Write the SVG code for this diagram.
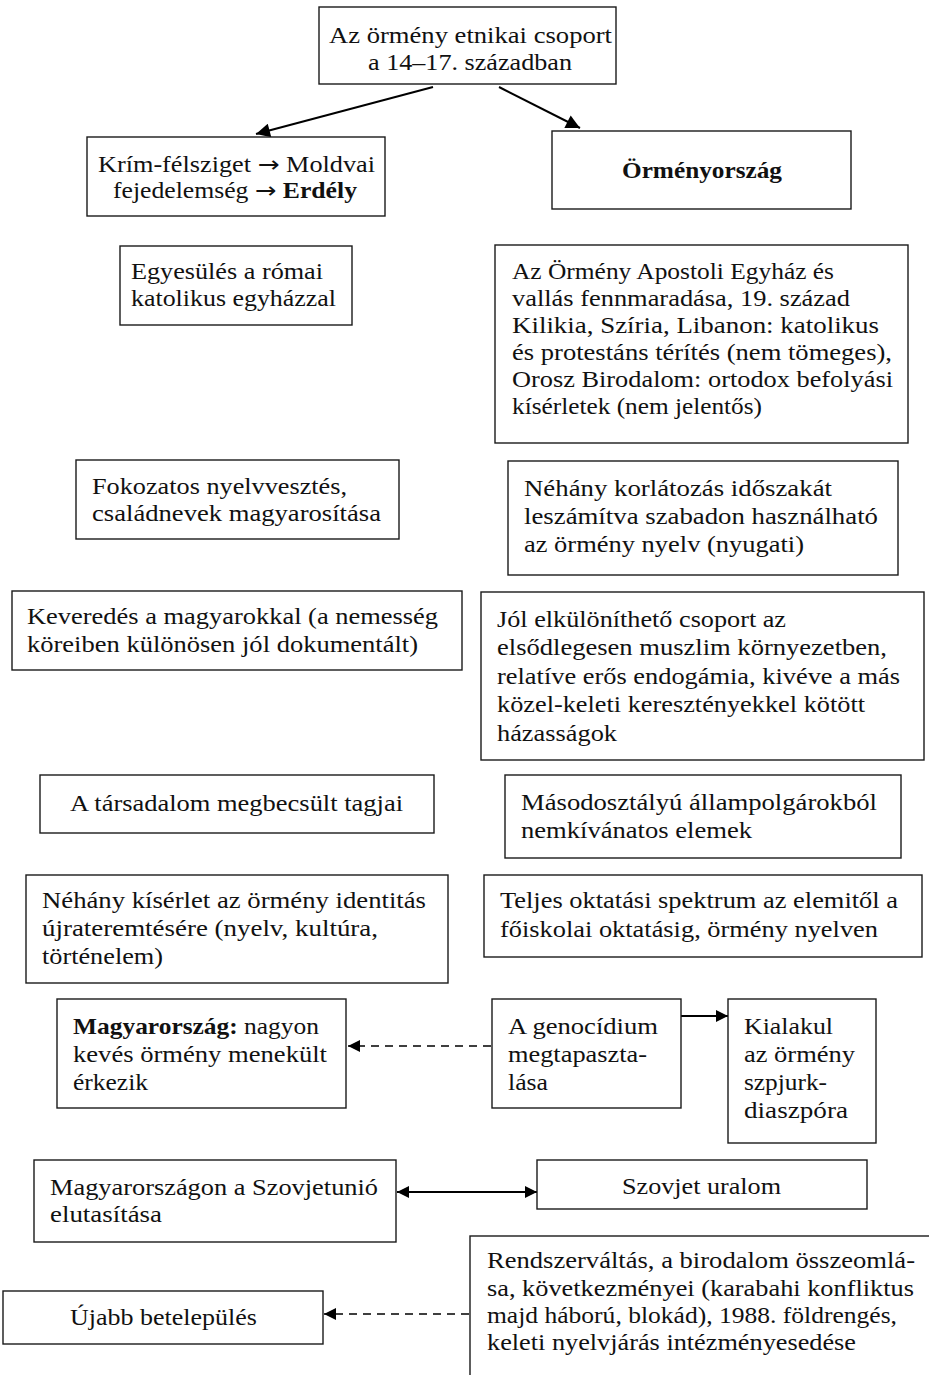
<svg xmlns="http://www.w3.org/2000/svg" width="929" height="1375" viewBox="0 0 929 1375">
<style>
  .box { fill: #fff; stroke: #1a1a1a; stroke-width: 1.4; }
  .t { font-family: "Liberation Serif", "DejaVu Serif", serif; font-size: 22.5px; fill: #111; }
  .b { font-weight: bold; }
  .ar { font-family: "DejaVu Sans", sans-serif; font-weight: normal; }
  .c { stroke: #000; stroke-width: 2; fill: none; }
  .d { stroke: #000; stroke-width: 1.6; fill: none; stroke-dasharray: 8 6; }
</style>
<defs>
  <marker id="big" viewBox="0 0 10 10" refX="10" refY="5" markerWidth="17" markerHeight="14" markerUnits="userSpaceOnUse" orient="auto">
    <path d="M0,0 L10,5 L0,10 z" fill="#000"/>
  </marker>
  <marker id="sm" viewBox="0 0 10 10" refX="10" refY="5" markerWidth="14" markerHeight="12" markerUnits="userSpaceOnUse" orient="auto-start-reverse">
    <path d="M0,0 L10,5 L0,10 z" fill="#000"/>
  </marker>
</defs>
<rect width="929" height="1375" fill="#fff"/>

<g id="connectors">
  <line class="c" x1="433" y1="87" x2="256" y2="134" marker-end="url(#big)"/>
  <line class="c" x1="499" y1="87" x2="580" y2="128" marker-end="url(#big)"/>
  <line class="d" x1="491" y1="1046" x2="348" y2="1046" marker-end="url(#sm)"/>
  <line class="c" x1="681" y1="1016" x2="728" y2="1016" marker-end="url(#sm)"/>
  <line class="c" x1="397" y1="1192" x2="537" y2="1192" marker-start="url(#sm)" marker-end="url(#sm)"/>
  <line class="d" x1="469" y1="1314" x2="324" y2="1314" marker-end="url(#sm)"/>
</g>

<g id="n-top">
  <rect class="box" x="319" y="7" width="297" height="77"/>
  <text class="t" x="329" y="43" textLength="283" lengthAdjust="spacingAndGlyphs">Az örmény etnikai csoport</text>
  <text class="t" x="368" y="70" textLength="204" lengthAdjust="spacingAndGlyphs">a 14–17. században</text>
</g>

<g id="n-krim">
  <rect class="box" x="87" y="137" width="298" height="79"/>
  <text class="t" x="98" y="172" textLength="277" lengthAdjust="spacingAndGlyphs">Krím-félsziget <tspan class="ar">→</tspan> Moldvai</text>
  <text class="t" x="113" y="198" textLength="244" lengthAdjust="spacingAndGlyphs">fejedelemség <tspan class="ar">→</tspan> <tspan class="b">Erdély</tspan></text>
</g>

<g id="n-ormenyorszag">
  <rect class="box" x="552" y="131" width="299" height="78"/>
  <text class="t b" x="622" y="178" textLength="160" lengthAdjust="spacingAndGlyphs">Örményország</text>
</g>

<g id="n-egyesules">
  <rect class="box" x="120" y="246" width="232" height="79"/>
  <text class="t" x="131" y="279" textLength="192" lengthAdjust="spacingAndGlyphs">Egyesülés a római</text>
  <text class="t" x="131" y="306" textLength="205" lengthAdjust="spacingAndGlyphs">katolikus egyházzal</text>
</g>

<g id="n-apostoli">
  <rect class="box" x="495" y="245" width="413" height="198"/>
  <text class="t" x="512" y="279" textLength="322" lengthAdjust="spacingAndGlyphs">Az Örmény Apostoli Egyház és</text>
  <text class="t" x="512" y="306" textLength="338" lengthAdjust="spacingAndGlyphs">vallás fennmaradása, 19. század</text>
  <text class="t" x="512" y="333" textLength="367" lengthAdjust="spacingAndGlyphs">Kilikia, Szíria, Libanon: katolikus</text>
  <text class="t" x="512" y="360" textLength="380" lengthAdjust="spacingAndGlyphs">és protestáns térítés (nem tömeges),</text>
  <text class="t" x="512" y="387" textLength="381" lengthAdjust="spacingAndGlyphs">Orosz Birodalom: ortodox befolyási</text>
  <text class="t" x="512" y="414" textLength="250" lengthAdjust="spacingAndGlyphs">kísérletek (nem jelentős)</text>
</g>

<g id="n-fokozatos">
  <rect class="box" x="76" y="460" width="323" height="79"/>
  <text class="t" x="92" y="494" textLength="255" lengthAdjust="spacingAndGlyphs">Fokozatos nyelvvesztés,</text>
  <text class="t" x="92" y="521" textLength="289" lengthAdjust="spacingAndGlyphs">családnevek magyarosítása</text>
</g>

<g id="n-korlatozas">
  <rect class="box" x="508" y="461" width="390" height="114"/>
  <text class="t" x="524" y="496" textLength="308" lengthAdjust="spacingAndGlyphs">Néhány korlátozás időszakát</text>
  <text class="t" x="524" y="524" textLength="354" lengthAdjust="spacingAndGlyphs">leszámítva szabadon használható</text>
  <text class="t" x="524" y="552" textLength="280" lengthAdjust="spacingAndGlyphs">az örmény nyelv (nyugati)</text>
</g>

<g id="n-keveredes">
  <rect class="box" x="12" y="591" width="450" height="79"/>
  <text class="t" x="27" y="624" textLength="411" lengthAdjust="spacingAndGlyphs">Keveredés a magyarokkal (a nemesség</text>
  <text class="t" x="27" y="652" textLength="391" lengthAdjust="spacingAndGlyphs">köreiben különösen jól dokumentált)</text>
</g>

<g id="n-jol">
  <rect class="box" x="481" y="592" width="443" height="168"/>
  <text class="t" x="497" y="627" textLength="289" lengthAdjust="spacingAndGlyphs">Jól elkülöníthető csoport az</text>
  <text class="t" x="497" y="655" textLength="390" lengthAdjust="spacingAndGlyphs">elsődlegesen muszlim környezetben,</text>
  <text class="t" x="497" y="684" textLength="403" lengthAdjust="spacingAndGlyphs">relatíve erős endogámia, kivéve a más</text>
  <text class="t" x="497" y="712" textLength="368" lengthAdjust="spacingAndGlyphs">közel-keleti keresztényekkel kötött</text>
  <text class="t" x="497" y="741" textLength="120" lengthAdjust="spacingAndGlyphs">házasságok</text>
</g>

<g id="n-tarsadalom">
  <rect class="box" x="40" y="775" width="394" height="58"/>
  <text class="t" x="70" y="811" textLength="333" lengthAdjust="spacingAndGlyphs">A társadalom megbecsült tagjai</text>
</g>

<g id="n-masodosztalyu">
  <rect class="box" x="505" y="775" width="396" height="83"/>
  <text class="t" x="521" y="810" textLength="356" lengthAdjust="spacingAndGlyphs">Másodosztályú állampolgárokból</text>
  <text class="t" x="521" y="838" textLength="231" lengthAdjust="spacingAndGlyphs">nemkívánatos elemek</text>
</g>

<g id="n-kiserlet">
  <rect class="box" x="26" y="875" width="422" height="108"/>
  <text class="t" x="42" y="908" textLength="384" lengthAdjust="spacingAndGlyphs">Néhány kísérlet az örmény identitás</text>
  <text class="t" x="42" y="936" textLength="336" lengthAdjust="spacingAndGlyphs">újrateremtésére (nyelv, kultúra,</text>
  <text class="t" x="42" y="964" textLength="121" lengthAdjust="spacingAndGlyphs">történelem)</text>
</g>

<g id="n-oktatas">
  <rect class="box" x="484" y="875" width="438" height="82"/>
  <text class="t" x="500" y="908" textLength="398" lengthAdjust="spacingAndGlyphs">Teljes oktatási spektrum az elemitől a</text>
  <text class="t" x="500" y="937" textLength="378" lengthAdjust="spacingAndGlyphs">főiskolai oktatásig, örmény nyelven</text>
</g>

<g id="n-magyarorszag">
  <rect class="box" x="57" y="999" width="289" height="109"/>
  <text class="t" x="73" y="1034" textLength="246" lengthAdjust="spacingAndGlyphs"><tspan class="b">Magyarország:</tspan> nagyon</text>
  <text class="t" x="73" y="1062" textLength="254" lengthAdjust="spacingAndGlyphs">kevés örmény menekült</text>
  <text class="t" x="73" y="1090" textLength="75" lengthAdjust="spacingAndGlyphs">érkezik</text>
</g>

<g id="n-genocidium">
  <rect class="box" x="492" y="999" width="189" height="109"/>
  <text class="t" x="508" y="1034" textLength="150" lengthAdjust="spacingAndGlyphs">A genocídium</text>
  <text class="t" x="508" y="1062" textLength="139" lengthAdjust="spacingAndGlyphs">megtapaszta-</text>
  <text class="t" x="508" y="1090" textLength="40" lengthAdjust="spacingAndGlyphs">lása</text>
</g>

<g id="n-diaszpora">
  <rect class="box" x="728" y="999" width="148" height="144"/>
  <text class="t" x="744" y="1034" textLength="89" lengthAdjust="spacingAndGlyphs">Kialakul</text>
  <text class="t" x="744" y="1062" textLength="111" lengthAdjust="spacingAndGlyphs">az örmény</text>
  <text class="t" x="744" y="1090" textLength="83" lengthAdjust="spacingAndGlyphs">szpjurk-</text>
  <text class="t" x="744" y="1118" textLength="104" lengthAdjust="spacingAndGlyphs">diaszpóra</text>
</g>

<g id="n-elutasitas">
  <rect class="box" x="34" y="1160" width="362" height="82"/>
  <text class="t" x="50" y="1195" textLength="328" lengthAdjust="spacingAndGlyphs">Magyarországon a Szovjetunió</text>
  <text class="t" x="50" y="1222" textLength="112" lengthAdjust="spacingAndGlyphs">elutasítása</text>
</g>

<g id="n-szovjet">
  <rect class="box" x="537" y="1160" width="330" height="49"/>
  <text class="t" x="622" y="1194" textLength="159" lengthAdjust="spacingAndGlyphs">Szovjet uralom</text>
</g>

<g id="n-ujabb">
  <rect class="box" x="3" y="1291" width="320" height="53"/>
  <text class="t" x="70" y="1325" textLength="187" lengthAdjust="spacingAndGlyphs">Újabb betelepülés</text>
</g>

<g id="n-rendszervaltas">
  <rect class="box" x="470" y="1236" width="480" height="200"/>
  <text class="t" x="487" y="1268" textLength="428" lengthAdjust="spacingAndGlyphs">Rendszerváltás, a birodalom összeomlá-</text>
  <text class="t" x="487" y="1296" textLength="427" lengthAdjust="spacingAndGlyphs">sa, következményei (karabahi konfliktus</text>
  <text class="t" x="487" y="1323" textLength="410" lengthAdjust="spacingAndGlyphs">majd háború, blokád), 1988. földrengés,</text>
  <text class="t" x="487" y="1350" textLength="369" lengthAdjust="spacingAndGlyphs">keleti nyelvjárás intézményesedése</text>
</g>
</svg>
